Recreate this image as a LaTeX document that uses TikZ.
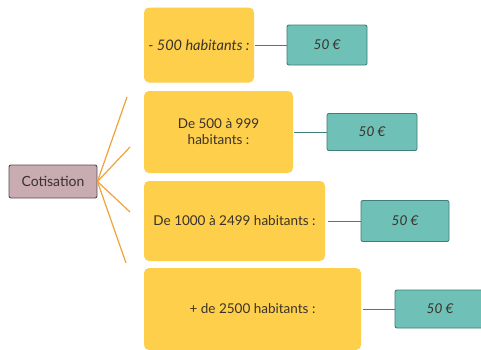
\documentclass[tikz,border=0pt]{standalone}
\usepackage{fontspec}
\setmainfont{Lato}
\definecolor{ybox}{HTML}{FDCF4B}
\definecolor{tfill}{HTML}{6FC0B6}
\definecolor{tline}{HTML}{3E7F78}
\definecolor{cfill}{HTML}{C9ABB2}
\definecolor{cline}{HTML}{5A4A4E}
\definecolor{txt}{HTML}{3A322B}
\definecolor{oline}{HTML}{F2A23A}
\tikzset{
  ybx/.style={rectangle, rounded corners=5pt, fill=ybox, draw=none, text=txt, font=\fontsize{13.5}{16}\selectfont, align=center, inner sep=0pt},
  tbx/.style={rectangle, rounded corners=2pt, fill=tfill, draw=tline, line width=0.9pt, text=txt, font=\fontsize{13.5}{16}\selectfont\itshape, inner sep=0pt},
  cbx/.style={rectangle, rounded corners=2pt, fill=cfill, draw=cline, line width=0.9pt, text=txt, font=\fontsize{14}{16}\selectfont, inner sep=0pt, minimum width=88pt, minimum height=33pt},
  link/.style={draw=tline, line width=1pt},
  fan/.style={draw=oline, line width=1.2pt}
}
\begin{document}
\begin{tikzpicture}[x=1pt,y=-1pt]
\useasboundingbox (0,0) rectangle (481,349);
\clip (0,0) rectangle (481,349);
\fill[white] (0,0) rectangle (481,349);

\node[ybx, minimum width=110pt, minimum height=75pt] (y1) at (199,45) {\fontsize{14.5}{16}\selectfont\itshape - 500 habitants :};
\node[ybx, minimum width=149pt, minimum height=82pt] (y2) at (218.5,132) {De 500 à 999\\habitants :};
\node[ybx, minimum width=181pt, minimum height=80pt] (y3) at (234.5,221) {De 1000 à 2499 habitants :};
\node[ybx, minimum width=217pt, minimum height=82pt] (y4) at (252.5,309) {+ de 2500 habitants :};

\node[tbx, minimum width=80pt, minimum height=40pt] (t1) at (327,45) {50 €};
\node[tbx, minimum width=90pt, minimum height=37pt] (t2) at (372,132) {50 €};
\node[tbx, minimum width=88pt, minimum height=41pt] (t3) at (405,221) {50 €};
\node[tbx, minimum width=90pt, minimum height=38pt] (t4) at (440,309) {50 €};

\draw[link] ([xshift=1pt]y1.east) -- (t1.west);
\draw[link] ([xshift=1pt]y2.east) -- (t2.west);
\draw[link] ([xshift=3pt]y3.east) -- (t3.west);
\draw[link] ([xshift=2pt]y4.east) -- (t4.west);

\node[cbx] (cot) at (53,181.5) {Cotisation};

\coordinate (f1) at (127,97);
\coordinate (f2) at (130,147);
\coordinate (f3) at (130,212);
\coordinate (f4) at (126,263);
\draw[fan] (cot.east) -- (f1);
\draw[fan] (cot.east) -- (f2);
\draw[fan] (cot.east) -- (f3);
\draw[fan] (cot.east) -- (f4);
\end{tikzpicture}
\end{document}
